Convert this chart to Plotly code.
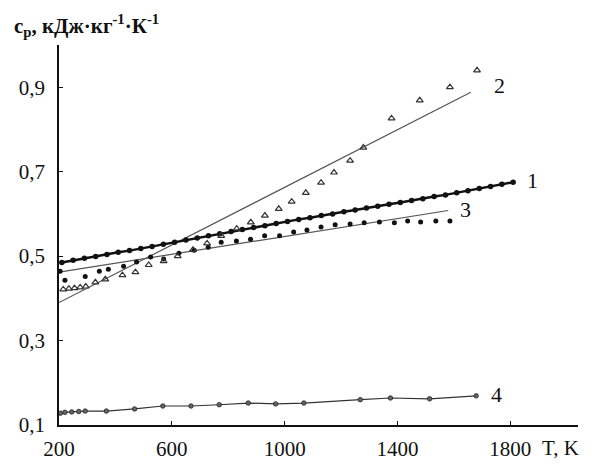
import plotly.graph_objects as go

# Series 1: dense measured points (filled circles)
t1 = [210, 250, 290, 330, 370, 410, 450, 490, 530, 570, 610, 650, 690, 730,
      770, 810, 850, 890, 930, 970, 1010, 1050, 1090, 1130, 1170, 1210, 1250,
      1290, 1330, 1370, 1410, 1450, 1490, 1530, 1570, 1610, 1650, 1690, 1730,
      1770, 1810]
cp1 = [0.485, 0.490, 0.495, 0.499, 0.504, 0.509, 0.513, 0.518, 0.523, 0.528,
       0.533, 0.538, 0.543, 0.548, 0.553, 0.558, 0.563, 0.568, 0.572, 0.577,
       0.582, 0.587, 0.591, 0.596, 0.600, 0.605, 0.609, 0.614, 0.618, 0.623,
       0.627, 0.632, 0.636, 0.641, 0.645, 0.650, 0.655, 0.660, 0.665, 0.670,
       0.675]

# Series 2: open triangles with their straight-line fit
t2 = [215, 235, 255, 275, 295, 329, 364, 425, 471, 518, 571, 621, 675, 725,
      775, 830, 880, 930, 979, 1025, 1075, 1129, 1175, 1232, 1279, 1379, 1479,
      1586, 1682]
cp2 = [0.421, 0.423, 0.424, 0.426, 0.428, 0.438, 0.445, 0.455, 0.462, 0.479,
       0.488, 0.500, 0.515, 0.530, 0.548, 0.565, 0.580, 0.596, 0.612, 0.629,
       0.650, 0.674, 0.698, 0.726, 0.757, 0.826, 0.869, 0.900, 0.940]
fit2_t = [200, 1660]
fit2_cp = [0.390, 0.888]

# Series 3: filled dots with their straight-line fit
t3 = [204, 221, 293, 343, 375, 429, 475, 525, 571, 625, 679, 729, 775, 829,
      879, 929, 982, 1032, 1079, 1129, 1179, 1232, 1282, 1336, 1389, 1436,
      1482, 1536, 1586]
cp3 = [0.464, 0.443, 0.452, 0.464, 0.469, 0.476, 0.486, 0.498, 0.493, 0.507,
       0.514, 0.521, 0.533, 0.536, 0.540, 0.548, 0.548, 0.557, 0.562, 0.569,
       0.574, 0.576, 0.579, 0.581, 0.579, 0.583, 0.581, 0.583, 0.583]
fit3_t = [200, 1580]
fit3_cp = [0.462, 0.608]

# Series 4: small circles joined by a line
t4 = [205, 221, 245, 270, 293, 368, 468, 568, 668, 768, 871, 968, 1068, 1268,
      1375, 1514, 1679]
cp4 = [0.128, 0.130, 0.131, 0.132, 0.133, 0.133, 0.138, 0.145, 0.145, 0.148,
       0.152, 0.150, 0.152, 0.160, 0.164, 0.162, 0.169]

x_ticks = [200, 600, 1000, 1400, 1800]
x_labels = ["200", "600", "1000", "1400", "1800"]
y_ticks = [0.1, 0.3, 0.5, 0.7, 0.9]
y_labels = ["0,1", "0,3", "0,5", "0,7", "0,9"]

curve_names = ["1", "2", "3", "4"]
curve_label_pos = [(1880, 0.68), (1760, 0.905), (1640, 0.61), (1750, 0.172)]

serif = "Liberation Serif, Times New Roman, serif"
ink = "#111111"
fit_col = "#555555"

fig = go.Figure()

fig.add_trace(go.Scatter(x=fit2_t, y=fit2_cp, mode="lines",
                         line=dict(color=fit_col, width=1.2)))
fig.add_trace(go.Scatter(x=fit3_t, y=fit3_cp, mode="lines",
                         line=dict(color=fit_col, width=1.2)))
fig.add_trace(go.Scatter(x=t4, y=cp4, mode="lines+markers",
                         line=dict(color="#333333", width=1.2),
                         marker=dict(symbol="circle", size=4.5, color="#666666",
                                     line=dict(color="#222222", width=0.8))))
fig.add_trace(go.Scatter(x=t1, y=cp1, mode="lines+markers",
                         line=dict(color=ink, width=2.5),
                         marker=dict(symbol="circle", size=5.5, color=ink)))
fig.add_trace(go.Scatter(x=t3, y=cp3, mode="markers",
                         marker=dict(symbol="circle", size=5, color=ink)))
fig.add_trace(go.Scatter(x=t2, y=cp2, mode="markers",
                         marker=dict(symbol="triangle-up-open", size=6,
                                     color="#333333",
                                     line=dict(width=1.2))))

for name, (tx, ty) in zip(curve_names, curve_label_pos):
    fig.add_annotation(x=tx, y=ty, text=name, showarrow=False,
                       xanchor="center", yanchor="middle",
                       font=dict(family=serif, size=22, color=ink))

fig.add_annotation(xref="paper", yref="paper", x=-0.09, y=1.05,
                   xanchor="left", yanchor="middle", showarrow=False,
                   text="<b>c<sub>p</sub>, кДж·кг<sup>-1</sup>·К<sup>-1</sup></b>",
                   font=dict(family=serif, size=21, color=ink))
fig.add_annotation(xref="paper", yref="paper", x=0.927, y=-0.06,
                   xanchor="left", yanchor="middle", showarrow=False,
                   text="T, K",
                   font=dict(family=serif, size=21, color=ink))

axis_common = dict(showgrid=False, zeroline=False, showline=True,
                   linecolor=ink, linewidth=1.6, ticks="inside", ticklen=4,
                   tickcolor=ink, automargin=False,
                   tickfont=dict(family=serif, size=21, color=ink))

fig.update_layout(
    width=601, height=464,
    margin=dict(l=59, r=23, t=45, b=39, pad=0),
    paper_bgcolor="white", plot_bgcolor="white",
    showlegend=False,
    xaxis=dict(range=[200, 2040], tickvals=x_ticks, ticktext=x_labels,
               ticklabelstandoff=4, **axis_common),
    yaxis=dict(range=[0.1, 1.0], tickvals=y_ticks, ticktext=y_labels,
               ticklabelstandoff=8, **axis_common),
)

fig.write_html("out.html")
